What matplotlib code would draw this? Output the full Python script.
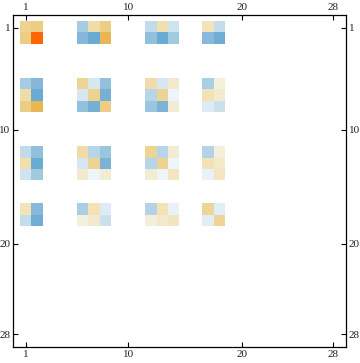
import numpy as np
import matplotlib
matplotlib.use("Agg")
import matplotlib.pyplot as plt
from matplotlib.colors import LinearSegmentedColormap

# matrix is 28x28, only these rows/cols have nonzero entries
n = 28
idx = [1, 2, 6, 7, 8, 12, 13, 14, 17, 18]

# symmetric sub-block of values at idx x idx
vals = [
    [0.22, 0.25, -0.25, 0.17, 0.25, -0.16, 0.16, -0.12, 0.14, -0.15],
    [0.25, 1.00, -0.34, -0.40, 0.40, -0.305, -0.40, -0.26, -0.33, -0.385],
    [-0.25, -0.34, 0.205, -0.10, -0.30, 0.17, -0.10, 0.10, -0.235, 0.05],
    [0.17, -0.40, -0.10, 0.22, -0.37, -0.20, 0.21, -0.05, 0.15, 0.10],
    [0.25, 0.40, -0.30, -0.37, 0.25, -0.28, -0.36, 0.08, -0.085, -0.135],
    [-0.16, -0.305, 0.17, -0.20, -0.28, 0.21, -0.20, 0.08, -0.21, 0.06],
    [0.16, -0.40, -0.10, 0.21, -0.36, -0.20, 0.22, -0.05, 0.15, 0.11],
    [-0.12, -0.26, 0.10, -0.05, 0.08, 0.08, -0.05, 0.13, -0.06, 0.13],
    [0.14, -0.33, -0.235, 0.15, -0.085, -0.21, 0.15, -0.06, 0.20, -0.075],
    [-0.15, -0.385, 0.05, 0.10, -0.135, 0.06, 0.11, 0.13, -0.075, 0.20],
]

ticks = [1, 10, 20, 28]

M = np.zeros((n, n))
ii = np.array(idx) - 1
M[np.ix_(ii, ii)] = np.array(vals)
M = np.ma.masked_equal(M, 0.0)  # zeros drawn as plain white

# blue - white - orange scale, roughly like the default matrix plot colours
nodes = [
    (-1.0, '#2C6FA8'), (-0.4, '#6AABD3'), (-0.35, '#82B5D8'), (-0.3, '#94C1DD'),
    (-0.25, '#A5CCE2'), (-0.2, '#B8D6E9'), (-0.15, '#C4DDEC'), (-0.1, '#D8E8F3'),
    (-0.05, '#EEF5FA'), (0.0, '#FFFFFF'), (0.05, '#F3F1DD'), (0.1, '#F3EAD0'),
    (0.15, '#F2E2B4'), (0.2, '#EDD698'), (0.25, '#EDCE84'), (0.4, '#E8B652'),
    (1.0, '#FF6600'),
]
cmap = LinearSegmentedColormap.from_list(
    'mm', [((v + 1) / 2, c) for v, c in nodes], N=1024)
cmap.set_bad('white')

fig = plt.figure(figsize=(3.6, 3.63), dpi=100)
ax = fig.add_axes([13/360, 16/363, 333/360, 332/363])
ax.imshow(M, cmap=cmap, vmin=-1, vmax=1, interpolation='nearest',
          extent=(0.5, n + 0.5, n + 0.5, 0.5), aspect='auto')
ax.set_xlim(-0.14, 29.14)
ax.set_ylim(29.1, -0.1)

ax.set_xticks(ticks)
ax.set_yticks(ticks)
ax.tick_params(direction='in', length=3.5, width=0.8, top=True, right=True,
               labeltop=True, labelright=True, labelsize=8, pad=2,
               labelcolor='#222222')
for lab in ax.get_xticklabels() + ax.get_yticklabels():
    lab.set_family('Liberation Serif')
for s in ax.spines.values():
    s.set_linewidth(0.9)

fig.savefig('out.png', dpi=100, facecolor='w')
plt.close(fig)
